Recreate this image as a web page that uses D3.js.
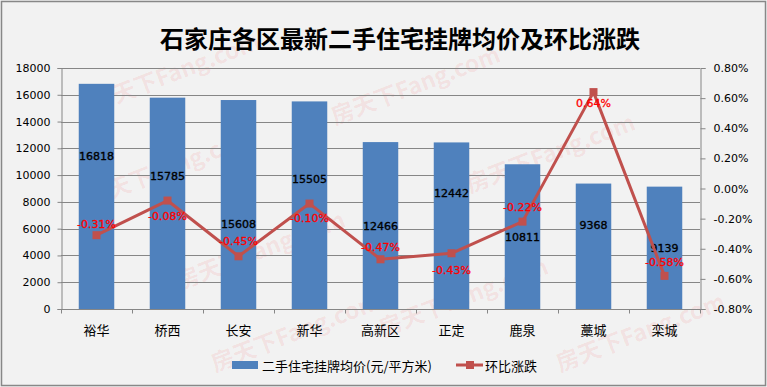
<!DOCTYPE html>
<html>
<head>
<meta charset="utf-8">
<script src="https://cdn.jsdelivr.net/npm/d3@7"></script>
<style>
  html, body { margin: 0; padding: 0; background: #f2f2f2; }
  svg { display: block; }
</style>
</head>
<body>
<div class="chart"></div>
<script>
'use strict';
(function() {
  // Data
  var categories = ['裕华', '桥西', '长安', '新华', '高新区', '正定', '鹿泉', '藁城', '栾城'];
  var prices = [16818, 15785, 15608, 15505, 12466, 12442, 10811, 9368, 9139];
  var changes = [-0.31, -0.08, -0.45, -0.10, -0.47, -0.43, -0.22, 0.64, -0.58];
  var leftTicks = [0, 2000, 4000, 6000, 8000, 10000, 12000, 14000, 16000, 18000];
  var rightTicks = [-0.8, -0.6, -0.4, -0.2, 0, 0.2, 0.4, 0.6, 0.8];
  var seriesNames = ['二手住宅挂牌均价(元/平方米)', '环比涨跌'];
  var title = '石家庄各区最新二手住宅挂牌均价及环比涨跌';

  // Label placement (pixels): bar labels below bar top, line labels from point
  var barLabelDy = [73, 79, 124, 78, 84, 51, 73, 42, 62];
  var lineLabelDy = [-11, 16, -15, 15, -12, 17, -14, 11, -13];

  // Colors
  var BAR = '#4f81bd';
  var LINE = '#c0504d';
  var AXIS = '#868686';

  // Size
  var w = 767;
  var h = 387;
  var left = 61, right = 700, top = 68, bottom = 309;

  var svg = d3.select('.chart')
    .append('svg')
    .attr('width', w)
    .attr('height', h);

  // Border
  svg.append('rect')
    .attr('x', 1.5).attr('y', 1.5)
    .attr('width', w - 3).attr('height', h - 3)
    .attr('fill', '#f2f2f2')
    .attr('stroke', '#888')
    .attr('stroke-width', 1.5);

  // Scales
  var x = d3.scaleBand()
    .domain(categories)
    .range([left, right])
    .paddingInner(0.5)
    .paddingOuter(0.25);

  var y = d3.scaleLinear().domain([0, 18000]).range([bottom, top]);
  var y2 = d3.scaleLinear().domain([-0.8, 0.8]).range([bottom, top]);

  // Watermark
  var marks = [[95, 112], [335, 125], [90, 207], [470, 193], [180, 290], [383, 337], [560, 372], [215, 372]];
  svg.append('g')
    .selectAll('text')
    .data(marks)
    .enter()
    .append('text')
    .attr('transform', function(d) { return 'translate(' + d[0] + ',' + d[1] + ') rotate(-21)'; })
    .attr('font-family', 'Noto Sans CJK SC')
    .attr('font-size', 23)
    .attr('font-weight', 'bold')
    .attr('fill', 'rgba(255,0,0,0.08)')
    .text('房天下Fang.com');

  // Gridlines
  svg.append('g')
    .selectAll('line')
    .data(leftTicks.slice(1))
    .enter()
    .append('line')
    .attr('x1', left).attr('x2', right)
    .attr('y1', function(d) { return Math.round(y(d)) + 0.5; })
    .attr('y2', function(d) { return Math.round(y(d)) + 0.5; })
    .attr('stroke', AXIS)
    .attr('stroke-width', 1);

  // Bars
  svg.append('g')
    .selectAll('rect')
    .data(prices)
    .enter()
    .append('rect')
    .attr('x', function(d, i) { return x(categories[i]); })
    .attr('y', function(d) { return y(d); })
    .attr('width', x.bandwidth())
    .attr('height', function(d) { return bottom - y(d); })
    .attr('fill', BAR);

  // Axes
  var yAxis = d3.axisLeft(y).tickValues(leftTicks).tickSize(4).tickPadding(7)
    .tickFormat(d3.format('d'));
  var y2Axis = d3.axisRight(y2).tickValues(rightTicks).tickSize(5).tickPadding(8)
    .tickFormat(function(d) { return d.toFixed(2) + '%'; });

  var gy = svg.append('g')
    .attr('transform', 'translate(' + (left + 0.5) + ',0)')
    .call(yAxis);
  var gy2 = svg.append('g')
    .attr('transform', 'translate(' + (right + 0.5) + ',0)')
    .call(y2Axis);

  [gy, gy2].forEach(function(g) {
    g.selectAll('path, line').attr('stroke', AXIS);
    g.selectAll('text')
      .attr('font-family', 'DejaVu Sans')
      .attr('font-size', 11)
      .attr('fill', '#000');
  });

  // X axis
  var gx = svg.append('g').attr('transform', 'translate(0,' + (bottom + 0.5) + ')');
  gx.append('line')
    .attr('x1', left).attr('x2', right + 1)
    .attr('stroke', AXIS);
  gx.selectAll('.tick')
    .data(categories.concat(['end']))
    .enter()
    .append('line')
    .attr('class', 'tick')
    .attr('x1', function(d, i) { return left + i * x.step() + 0.5; })
    .attr('x2', function(d, i) { return left + i * x.step() + 0.5; })
    .attr('y1', 0).attr('y2', 4)
    .attr('stroke', AXIS);
  gx.selectAll('text')
    .data(categories)
    .enter()
    .append('text')
    .attr('x', function(d) { return x(d) + x.bandwidth() / 2; })
    .attr('y', 20)
    .attr('text-anchor', 'middle')
    .attr('dominant-baseline', 'central')
    .attr('font-family', 'Noto Sans CJK SC')
    .attr('font-size', 13)
    .attr('fill', '#000')
    .text(function(d) { return d; });

  // Bar labels
  svg.append('g')
    .selectAll('text')
    .data(prices)
    .enter()
    .append('text')
    .attr('x', function(d, i) { return x(categories[i]) + x.bandwidth() / 2; })
    .attr('y', function(d, i) { return y(d) + barLabelDy[i]; })
    .attr('text-anchor', 'middle')
    .attr('dominant-baseline', 'central')
    .attr('font-family', 'DejaVu Sans')
    .attr('font-size', 11)
    .attr('fill', '#000')
    .attr('stroke', '#000')
    .attr('stroke-width', 0.35)
    .text(function(d) { return d; });

  // Line
  var line = d3.line()
    .x(function(d, i) { return x(categories[i]) + x.bandwidth() / 2; })
    .y(function(d) { return y2(d); });

  svg.append('path')
    .datum(changes)
    .attr('d', line)
    .attr('fill', 'none')
    .attr('stroke', LINE)
    .attr('stroke-width', 3)
    .attr('stroke-linejoin', 'round');

  svg.append('g')
    .selectAll('rect')
    .data(changes)
    .enter()
    .append('rect')
    .attr('x', function(d, i) { return x(categories[i]) + x.bandwidth() / 2 - 4; })
    .attr('y', function(d) { return y2(d) - 4; })
    .attr('width', 8)
    .attr('height', 8)
    .attr('fill', LINE);

  // Line labels
  svg.append('g')
    .selectAll('text')
    .data(changes)
    .enter()
    .append('text')
    .attr('x', function(d, i) { return x(categories[i]) + x.bandwidth() / 2; })
    .attr('y', function(d, i) { return y2(d) + lineLabelDy[i]; })
    .attr('text-anchor', 'middle')
    .attr('dominant-baseline', 'central')
    .attr('font-family', 'DejaVu Sans')
    .attr('font-size', 11)
    .attr('fill', '#ff0000')
    .attr('stroke', '#ff0000')
    .attr('stroke-width', 0.3)
    .text(function(d) { return d.toFixed(2) + '%'; });

  // Title
  svg.append('text')
    .attr('x', 400)
    .attr('y', 37)
    .attr('text-anchor', 'middle')
    .attr('dominant-baseline', 'central')
    .attr('font-family', 'Noto Sans CJK SC')
    .attr('font-size', 24)
    .attr('font-weight', 'bold')
    .attr('fill', '#000')
    .text(title);

  // Legend
  var legend = svg.append('g').attr('transform', 'translate(0,365)');
  legend.append('rect')
    .attr('x', 232).attr('y', -4)
    .attr('width', 26).attr('height', 8)
    .attr('fill', BAR);
  legend.append('text')
    .attr('x', 262).attr('y', 0)
    .attr('dominant-baseline', 'central')
    .attr('font-family', 'Noto Sans CJK SC')
    .attr('font-size', 13)
    .attr('fill', '#000')
    .text(seriesNames[0]);
  legend.append('line')
    .attr('x1', 456).attr('x2', 483)
    .attr('stroke', LINE)
    .attr('stroke-width', 3);
  legend.append('rect')
    .attr('x', 466).attr('y', -4)
    .attr('width', 8).attr('height', 8)
    .attr('fill', LINE);
  legend.append('text')
    .attr('x', 485).attr('y', 0)
    .attr('dominant-baseline', 'central')
    .attr('font-family', 'Noto Sans CJK SC')
    .attr('font-size', 13)
    .attr('fill', '#000')
    .text(seriesNames[1]);
})();
</script>
</body>
</html>
